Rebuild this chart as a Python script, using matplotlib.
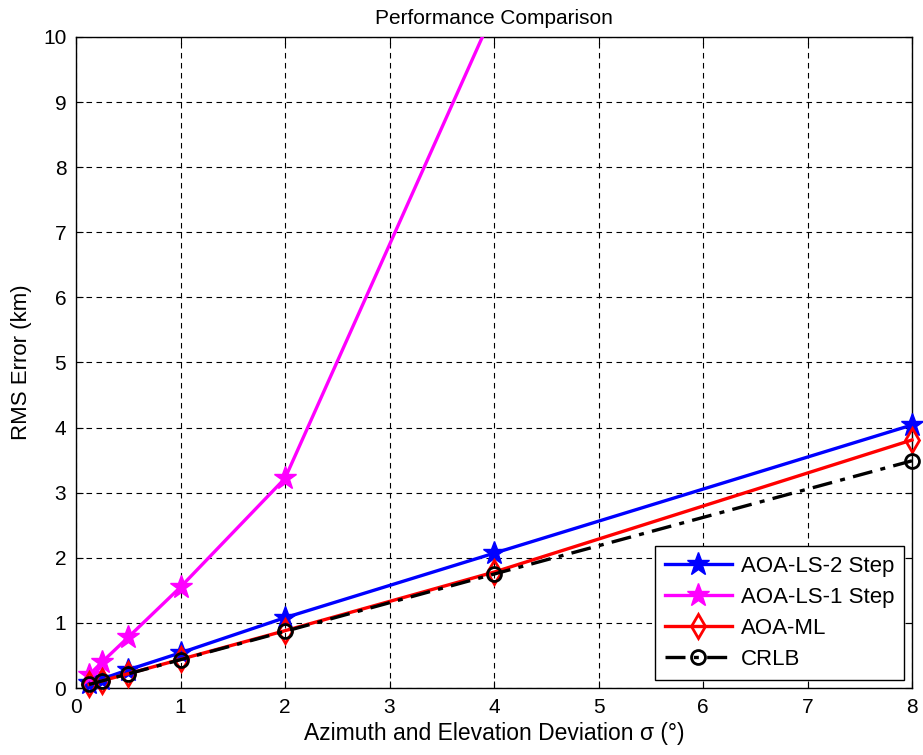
import matplotlib
matplotlib.use("Agg")
import matplotlib.pyplot as plt

# Angular deviation sigma (degrees)
sigma = [0.125, 0.25, 0.5, 1, 2, 4, 8]

# RMS error (km) per method
ls_two_step = [0.07, 0.14, 0.28, 0.54, 1.08, 2.07, 4.04]
ls_one_step = [0.20, 0.40, 0.78, 1.55, 3.22, 10.4, 30.0]
ml = [0.055, 0.11, 0.22, 0.44, 0.88, 1.78, 3.81]
crlb = [0.054, 0.109, 0.217, 0.435, 0.87, 1.75, 3.49]

series_labels = ["AOA-LS-2 Step", "AOA-LS-1 Step", "AOA-ML", "CRLB"]
x_ticks = [0, 1, 2, 3, 4, 5, 6, 7, 8]
y_ticks = [0, 1, 2, 3, 4, 5, 6, 7, 8, 9, 10]

plt.rcParams["font.family"] = ["Liberation Sans", "DejaVu Sans"]

fig = plt.figure(figsize=(9.23, 7.55), dpi=100)
ax = fig.add_axes([76 / 923, 1 - 688 / 755, (912 - 76) / 923, (688 - 37) / 755])

ax.plot(sigma, ls_two_step, color="#0000ff", lw=2.4, marker="*", ms=17,
        mec="#0000ff", mfc="#0000ff", label=series_labels[0], zorder=3,
        clip_on=False)
ax.plot(sigma, ls_one_step, color="#ff00ff", lw=2.4, marker="*", ms=17,
        mec="#ff00ff", mfc="#ff00ff", label=series_labels[1], zorder=3)
ax.plot(sigma, ml, color="#ff0000", lw=2.4, marker="d", ms=12, mew=2,
        mec="#ff0000", mfc="none", label=series_labels[2], zorder=4,
        clip_on=False)
ax.plot(sigma, crlb, color="black", lw=2.4, ls=(0, (6, 2.5, 1.5, 2.5)),
        marker="o", ms=10, mew=2, mec="black", mfc="none",
        label=series_labels[3], zorder=5, clip_on=False)

ax.set_xlim(0, 8)
ax.set_ylim(0, 10)
ax.set_xticks(x_ticks)
ax.set_yticks(y_ticks)

ax.grid(True, color="black", ls=(0, (5, 4)), lw=0.8)
ax.set_axisbelow(True)
ax.tick_params(direction="in", length=5, width=0.8, top=True, right=True,
               labelsize=15, pad=7)
for s in ax.spines.values():
    s.set_linewidth(1.0)

ax.set_title("Performance Comparison", fontsize=15, pad=9)
ax.set_xlabel("Azimuth and Elevation Deviation σ (°)", fontsize=16.5, labelpad=4)
ax.set_ylabel("RMS Error (km)", fontsize=16, labelpad=8)

leg = ax.legend(loc="lower right", fontsize=16, frameon=True, fancybox=False,
                edgecolor="black", framealpha=1, borderaxespad=0.35,
                handlelength=3.0, handletextpad=0.4, labelspacing=0.45,
                borderpad=0.45)
leg.get_frame().set_linewidth(1.0)

fig.savefig("out.png", dpi=100)
